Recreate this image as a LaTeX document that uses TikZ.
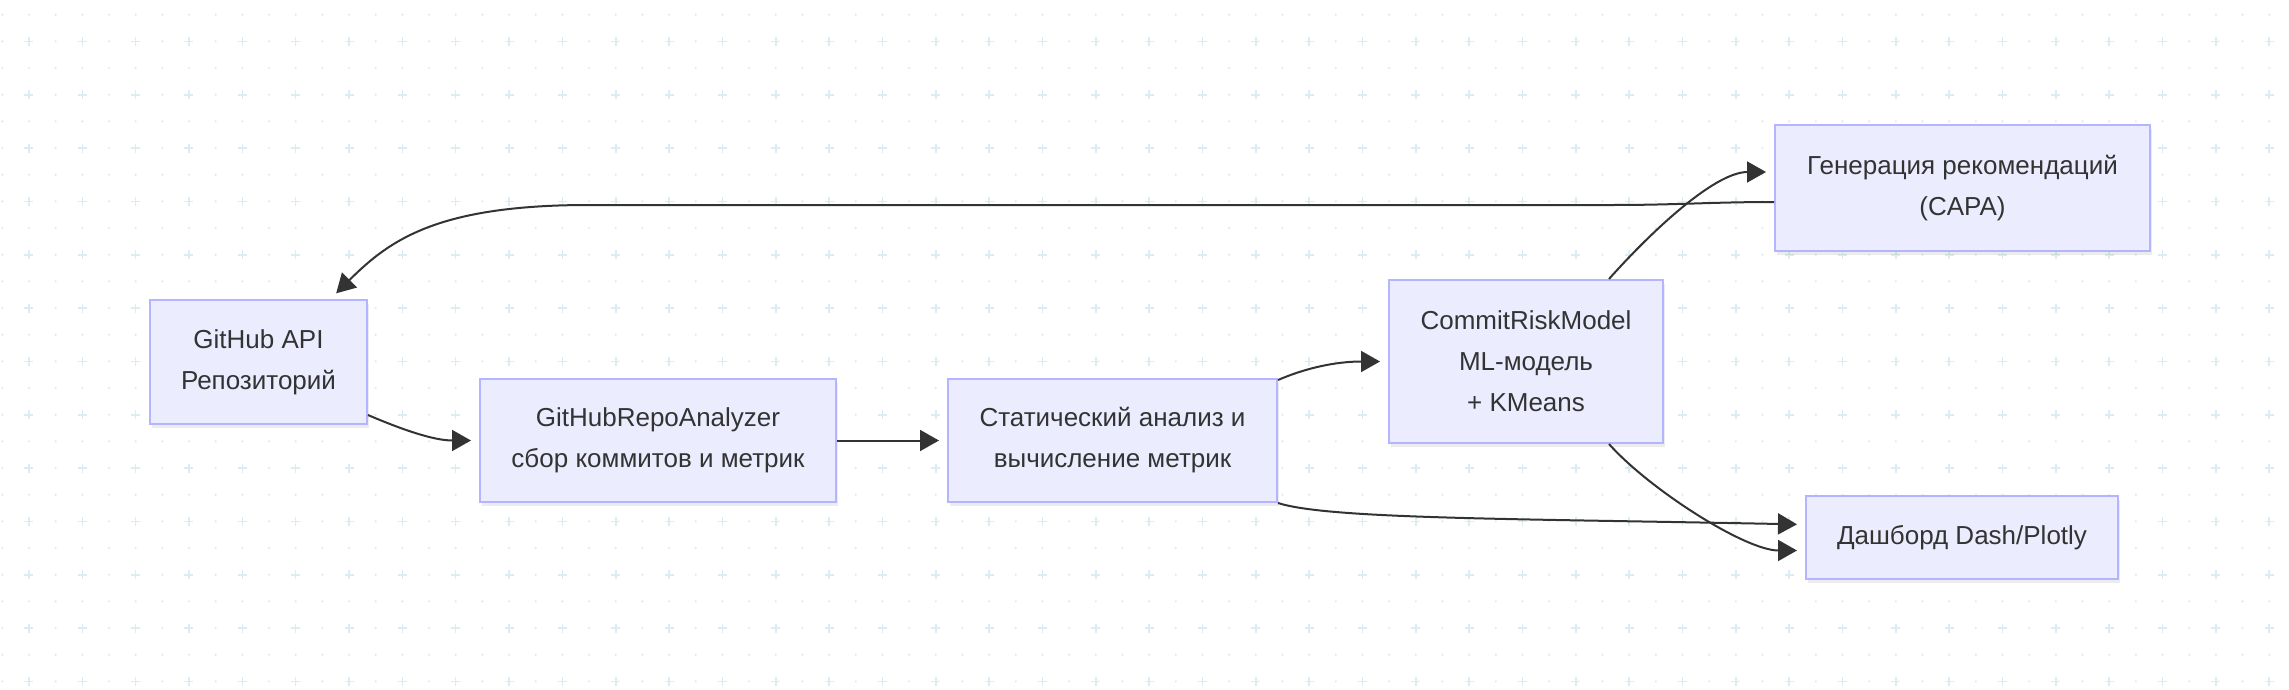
\documentclass[tikz,border=0pt]{standalone}
\usepackage{fontspec}
\setmainfont{Liberation Sans}
\usetikzlibrary{arrows.meta,shadows}
\definecolor{boxfill}{HTML}{ECECFF}
\definecolor{boxline}{HTML}{B4B4FF}
\definecolor{ink}{HTML}{333333}
\definecolor{gridc}{HTML}{D9EDF2}
\begin{document}
\begin{tikzpicture}[x=1pt, y=-1pt,
  box/.style={draw=boxline, line width=2pt, fill=boxfill, text=ink, align=center, inner sep=0pt,
    font=\fontsize{26}{41}\selectfont,
    drop shadow={shadow xshift=2pt, shadow yshift=-4pt, opacity=0.15}},
  flow/.style={draw=ink, line width=2pt, -{Triangle[length=19pt,width=21pt]}, shorten >=8pt}]
\useasboundingbox (0,0) rectangle (2289,690);
\fill[white] (0,0) rectangle (2289,690);
% background grid
\foreach \i in {0,...,85}{\foreach \j in {0,...,25}{
  \fill[gridc] ({2.3+26.67*\i},{14.7+26.67*\j}) circle (1.2pt);}}
\foreach \i in {1,3,...,85}{\foreach \j in {1,3,...,25}{
  \draw[gridc, line width=1.6pt] ({2.3+26.67*\i},{14.7+26.67*\j}) +(-4.5,0) -- +(4.5,0) +(0,-4.5) -- +(0,4.5);}}

\node[box, minimum width=217pt, minimum height=124pt] (gh) at (258.5,362) {GitHub API\\Репозиторий};
\node[box, minimum width=356pt, minimum height=123pt] (an) at (658,440.5) {GitHubRepoAnalyzer\\сбор коммитов и метрик};
\node[box, minimum width=329pt, minimum height=123pt] (st) at (1112.5,440.5) {Статический анализ и\\вычисление метрик};
\node[box, minimum width=274pt, minimum height=163pt] (rm) at (1526,361.5) {CommitRiskModel\\ML-модель\\+ KMeans};
\node[box, minimum width=375pt, minimum height=126pt] (rec) at (1962.5,188) {Генерация рекомендаций\\(CAPA)};
\node[box, minimum width=312pt, minimum height=83pt] (dash) at (1962,537.5) {Дашборд Dash/Plotly};

\draw[flow] ([yshift=10pt]gh.south east) .. controls +(35,15) and +(-45,0) .. (an.west);
\draw[flow] (an.east) -- (st.west);
\draw[flow] ([yshift=-2pt]st.north east) .. controls +(35,-15) and +(-45,0) .. (rm.west);
\draw[flow] (st.south east) .. controls +(50,16) and +(-300,-6) .. ([yshift=13pt]dash.west);
\draw[flow] ([xshift=-55pt]rm.north east) .. controls +(40,-45) and +(-60,0) .. ([yshift=16pt]rec.west);
\draw[flow] ([xshift=-55pt]rm.south east) .. controls +(40,45) and +(-60,0) .. ([yshift=-13pt]dash.west);
\draw[flow] ([yshift=-14pt]rec.west) .. controls +(-60,0) and +(60,0) .. ++(-160,3)
  -- ++(-1025,0) .. controls +(-150,0) and +(60,-60) .. ([xshift=72pt]gh.north);
\end{tikzpicture}
\end{document}
